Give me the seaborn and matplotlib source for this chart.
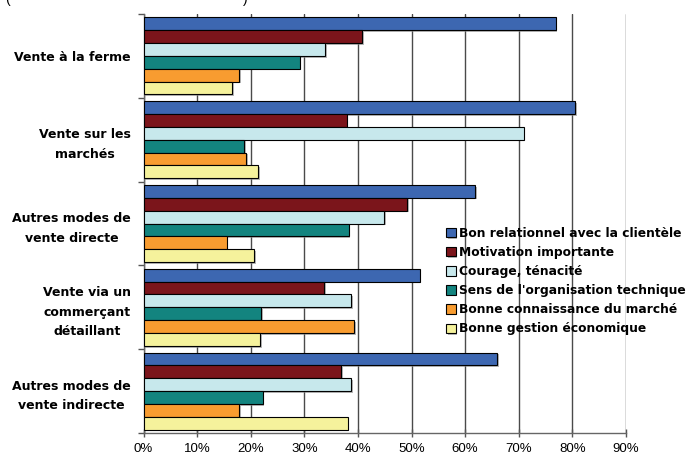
import matplotlib
matplotlib.use("Agg")
import matplotlib.pyplot as plt
import matplotlib.patheffects as pe
import seaborn as sns
import pandas as pd
import numpy as np

# Sales channels (y categories)
channels = [
    "Vente à la ferme",
    "Vente sur les\nmarchés",
    "Autres modes de\nvente directe",
    "Vente via un\ncommerçant\ndétaillant",
    "Autres modes de\nvente indirecte",
]

# Qualities cited (hue series)
qualities = [
    "Bon relationnel avec la clientèle",
    "Motivation importante",
    "Courage, ténacité",
    "Sens de l'organisation technique",
    "Bonne connaissance du marché",
    "Bonne gestion économique",
]

# Share of respondents (%) for each quality, one list per channel
bon_relationnel = [76.9, 80.5, 61.9, 51.5, 66.0]
motivation = [40.8, 37.9, 49.2, 33.7, 36.9]
courage = [33.9, 70.9, 44.9, 38.7, 38.7]
organisation = [29.1, 18.8, 38.3, 22.0, 22.2]
connaissance = [17.8, 19.2, 15.5, 39.3, 17.8]
gestion = [16.6, 21.4, 20.7, 21.8, 38.1]

tick_labels = ["0%", "10%", "20%", "30%", "40%", "50%", "60%", "70%", "80%", "90%"]

colors = ["#3D67B1", "#7B151B", "#C7E8EC", "#13847F", "#F89C30", "#F5F29C"]

series = [bon_relationnel, motivation, courage, organisation, connaissance, gestion]
df = pd.DataFrame(
    [(c, q, v) for q, vals in zip(qualities, series) for c, v in zip(channels, vals)],
    columns=["canal", "qualite", "pct"],
)

sns.set_theme(style="white")
plt.rcParams["font.family"] = ["Liberation Sans", "DejaVu Sans"]
plt.rcParams["text.color"] = "black"
plt.rcParams["xtick.labelcolor"] = "black"
plt.rcParams["ytick.labelcolor"] = "black"

fig = plt.figure(figsize=(6.91, 4.63), dpi=100)
ax = fig.add_axes([143.5 / 691, 1 - 433 / 463, (626 - 143.5) / 691, (433 - 14) / 463])

sns.barplot(
    data=df, y="canal", x="pct", hue="qualite", order=channels, hue_order=qualities,
    palette=colors, orient="h", width=0.92, ax=ax, edgecolor="black", linewidth=0.8,
    saturation=1, legend=True, zorder=3,
)

shadow = [pe.SimplePatchShadow(offset=(1.2, -1.2), shadow_rgbFace="#888888", alpha=0.6), pe.Normal()]
for p in ax.patches:
    p.set_path_effects(shadow)

ax.set_xlim(0, 90)
ax.set_ylim(len(channels) - 0.5, -0.5)
ax.set_xticks(np.arange(0, 91, 10))
ax.set_xticklabels(tick_labels, fontsize=9.5)
ax.set_xlabel("")
ax.set_ylabel("")

# Vertical gridlines behind the bars
ax.xaxis.grid(True, color="#4a4a4a", linewidth=1.0, zorder=0)
ax.set_axisbelow(True)

# Category labels at group centres, tick marks at group boundaries
ax.set_yticks(range(len(channels)))
ax.set_yticklabels(channels, fontsize=9.0, fontweight="bold", family="DejaVu Sans",
                   multialignment="center", linespacing=1.65)
ax.tick_params(axis="y", length=0, pad=9)
ax.set_yticks(np.arange(-0.5, len(channels), 1.0), minor=True)
ax.tick_params(axis="y", which="minor", left=True, length=4, width=1, color="#555555", direction="out")
ax.tick_params(axis="x", bottom=True, length=6, width=1, color="#555555", direction="inout", pad=4)

for side in ["top", "right"]:
    ax.spines[side].set_visible(False)
for side in ["left", "bottom"]:
    ax.spines[side].set_color("#666666")
    ax.spines[side].set_linewidth(1.0)

handles, labels = ax.get_legend_handles_labels()
ax.legend(
    handles, labels, loc="upper left", bbox_to_anchor=(441 / 691, 1 - 222 / 463),
    bbox_transform=fig.transFigure, frameon=False,
    prop={"weight": "bold", "size": 8.8, "family": "DejaVu Sans"},
    handlelength=0.8, handleheight=0.8,
    handletextpad=0.3, labelspacing=0.5, borderaxespad=0,
)

# Partially visible header line at the very top
fig.text(5 / 691, 1.003, "(", fontsize=10, va="center", ha="left")
fig.text(243 / 691, 1.003, ")", fontsize=10, va="center", ha="left")

fig.savefig("out.png", dpi=100)
